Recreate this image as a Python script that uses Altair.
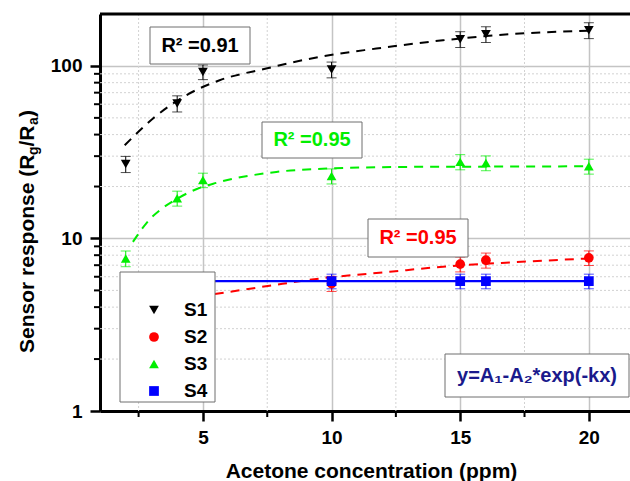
import altair as alt
import pandas as pd

FONT = "Liberation Sans"

# ---------------- data ----------------
series = ["S1", "S2", "S3", "S4"]
colors = ["#000000", "#ff0000", "#00ee00", "#0000ff"]
shapes = ["triangle-down", "circle", "triangle-up", "square"]
sym_sizes = [95, 95, 100, 48]

conc = [2, 4, 5, 10, 15, 16, 20]
s1 = [27.0, 60.6, 92.3, 95.3, 142.9, 152.7, 161.0]
s1_err = [2.9, 6.5, 9.0, 10.0, 15.0, 16.0, 17.0]
s3 = [7.66, 17.1, 21.8, 23.0, 27.8, 27.4, 26.2]
s3_err = [0.8, 1.7, 2.1, 2.3, 2.8, 2.7, 2.6]

conc_s2 = [10, 15, 16, 20]
s2 = [5.48, 7.10, 7.48, 7.72]
s2_err = [0.55, 0.70, 0.75, 0.75]

conc_s4 = [10, 15, 16, 20]
s4 = [5.66, 5.66, 5.66, 5.66]
s4_err = [0.55, 0.55, 0.55, 0.55]

# fitted curves (y = A1 - A2*exp(-kx))
fit1_x = [1.96, 3.06, 4.35, 5.65, 7.46, 9.66, 11.74, 14.33, 16.92, 20.0]
fit1_y = [34.7, 49.6, 67.6, 82.6, 96.6, 113.8, 126.1, 140.8, 152.7, 160.0]
fit2_x = [5.46, 7.59, 9.54, 12.26, 14.33, 16.92, 20.03]
fit2_y = [4.76, 5.32, 5.86, 6.41, 6.86, 7.26, 7.66]
fit3_x = [2.28, 2.93, 3.38, 4.03, 4.74, 5.52, 7.85, 10.05, 13.03, 16.5, 20.0]
fit3_y = [9.55, 12.9, 14.8, 17.1, 19.3, 21.0, 24.3, 25.5, 26.0, 26.1, 26.2]
fit4_x = [2.0, 20.0]
fit4_y = [5.66, 5.66]

major_x = [5, 10, 15, 20]
minor_x = [2.5, 7.5, 12.5, 17.5]
major_y = [1, 10, 100]
minor_y = [2, 3, 4, 5, 6, 7, 8, 9, 20, 30, 40, 50, 60, 70, 80, 90]

W, H = 530, 397

# ---------------- tables ----------------
rows = []
for name, xs_, ys_, es_ in [("S1", conc, s1, s1_err), ("S2", conc_s2, s2, s2_err),
                            ("S3", conc, s3, s3_err), ("S4", conc_s4, s4, s4_err)]:
    for xv, yv, ev in zip(xs_, ys_, es_):
        rows.append({"series": name, "x": xv, "y": yv, "lo": yv - ev, "hi": yv + ev})
pts_df = pd.DataFrame(rows)

fit_rows = []
for name, fx, fy in [("S1", fit1_x, fit1_y), ("S2", fit2_x, fit2_y), ("S3", fit3_x, fit3_y)]:
    for xv, yv in zip(fx, fy):
        fit_rows.append({"series": name, "x": xv, "y": yv})
fit_df = pd.DataFrame(fit_rows)
fit4_df = pd.DataFrame({"series": ["S4"] * len(fit4_x), "x": fit4_x, "y": fit4_y})

# ---------------- scales / axes ----------------
xs = alt.Scale(domain=[1, 21.6], nice=False, zero=False)
ys = alt.Scale(type="log", domain=[1, 200], nice=False)
cscale = alt.Scale(domain=series, range=colors)
sscale = alt.Scale(domain=series, range=shapes)
zscale = alt.Scale(domain=series, range=sym_sizes)

xaxis = alt.Axis(values=major_x, format="d", title="Acetone concentration (ppm)",
                 labelFont=FONT, labelFontSize=19, labelFontWeight="bold", labelColor="black",
                 labelPadding=22, labelBaseline="alphabetic", labelFlush=False, labelOverlap=False,
                 tickSize=10, tickWidth=2.5, tickColor="black",
                 domainColor="black", domainWidth=3,
                 grid=True, gridColor="#c4c4c4", gridWidth=1.5,
                 titleFont=FONT, titleFontSize=21, titleFontWeight="bold", titleColor="black",
                 titleX=271, titleY=66, titleAlign="center", titleBaseline="alphabetic")
yaxis = alt.Axis(values=major_y, format="d", title=None,
                 labelFont=FONT, labelFontSize=19, labelFontWeight="bold", labelColor="black",
                 labelPadding=8, labelFlush=False, labelOverlap=False,
                 tickSize=10, tickWidth=2.5, tickColor="black",
                 domainColor="black", domainWidth=3,
                 grid=True, gridColor="#c4c4c4", gridWidth=1.5)

X = lambda f="x": alt.X(f"{f}:Q", scale=xs, axis=xaxis)
Y = lambda f="y": alt.Y(f"{f}:Q", scale=ys, axis=yaxis)
COL = alt.Color("series:N", scale=cscale, legend=None)

# ---------------- layers ----------------
grid_h = alt.Chart(pd.DataFrame({"v": minor_y})).mark_rule(
    color="#d2d2d2", strokeWidth=1, strokeDash=[2, 2]).encode(
    y=Y("v"), x=alt.value(0), x2=alt.value(W))
grid_v = alt.Chart(pd.DataFrame({"v": minor_x})).mark_rule(
    color="#d2d2d2", strokeWidth=1, strokeDash=[2, 2]).encode(
    x=X("v"), y=alt.value(0), y2=alt.value(H))
tick_y = alt.Chart(pd.DataFrame({"v": minor_y})).mark_rule(
    color="black", strokeWidth=2).encode(
    y=Y("v"), x=alt.value(-6), x2=alt.value(0))
tick_x = alt.Chart(pd.DataFrame({"v": minor_x})).mark_rule(
    color="black", strokeWidth=2).encode(
    x=X("v"), y=alt.value(H), y2=alt.value(H + 6))
top_border = alt.Chart(pd.DataFrame({"v": [0]})).mark_rule(
    color="black", strokeWidth=3).encode(
    y=alt.value(0), x=alt.value(0), x2=alt.value(W))

fits = alt.Chart(fit_df).mark_line(strokeWidth=2, strokeDash=[9, 7], interpolate="monotone").encode(
    x=X(), y=Y(), color=COL, detail="series:N")
fit4 = alt.Chart(fit4_df).mark_line(strokeWidth=2.2).encode(x=X(), y=Y(), color=COL)

err = alt.Chart(pts_df).mark_rule(strokeWidth=1).encode(
    x=X(), y=Y("lo"), y2="hi:Q", color=COL)
cap_lo = alt.Chart(pts_df).mark_tick(orient="horizontal", size=10, thickness=1).encode(
    x=X(), y=Y("lo"), color=COL)
cap_hi = alt.Chart(pts_df).mark_tick(orient="horizontal", size=10, thickness=1).encode(
    x=X(), y=Y("hi"), color=COL)
points = alt.Chart(pts_df).mark_point(filled=True, opacity=1, strokeWidth=0).encode(
    x=X(), y=Y(), color=COL,
    shape=alt.Shape("series:N", scale=sscale, legend=None),
    size=alt.Size("series:N", scale=zscale, legend=None))


def box(x0, y0, x1, y1):
    return alt.Chart(pd.DataFrame({"b": [0]})).mark_rect(
        fill="white", stroke="#6e6e6e", strokeWidth=1).encode(
        x=alt.value(x0), x2=alt.value(x1), y=alt.value(y0), y2=alt.value(y1))


def label(txt, x, y, color="black", size=20, angle=0, align="center", baseline="middle"):
    kw = dict(font=FONT, fontSize=size, fontWeight="bold", color=color,
              align=align, baseline=baseline)
    if angle:
        kw["angle"] = angle
    return alt.Chart(pd.DataFrame({"t": [txt]})).mark_text(**kw).encode(
        text="t:N", x=alt.value(x), y=alt.value(y))


annots = [
    box(50, 13, 150, 50), label("R² =0.91", 100, 32, "black"),
    box(162, 108, 262, 144), label("R² =0.95", 212, 126, "#00ee00"),
    box(268, 205, 368, 243), label("R² =0.95", 318, 224, "#ff0000"),
    box(345, 340, 529, 383), label("y=A₁-A₂*exp(-kx)", 437, 362, "#1a1a8c"),
]

ytitle = [
    label("Sensor response (R", -66.5, 339, size=21, angle=270, align="left", baseline="alphabetic"),
    label("g", -62, 141, size=14, angle=270, align="left", baseline="alphabetic"),
    label("/R", -66.5, 132.5, size=21, angle=270, align="left", baseline="alphabetic"),
    label("a", -62, 111, size=14, angle=270, align="left", baseline="alphabetic"),
    label(")", -66.5, 103, size=21, angle=270, align="left", baseline="alphabetic"),
]

main = alt.layer(grid_h, grid_v, tick_y, tick_x, fits, fit4, err, cap_lo, cap_hi, points,
                 *annots, top_border, *ytitle)

# ---------------- legend (drawn on top) ----------------
leg_df = pd.DataFrame({"series": series})
LY = alt.Y("series:N", scale=alt.Scale(type="point", domain=series, range=[296, 377], padding=0),
           axis=None)
leg_box = box(20, 258, 115, 388)
leg_pts = alt.Chart(leg_df).mark_point(filled=True, opacity=1, strokeWidth=0).encode(
    x=alt.value(54), y=LY, color=COL,
    shape=alt.Shape("series:N", scale=sscale, legend=None),
    size=alt.Size("series:N", scale=zscale, legend=None))
leg_txt = alt.Chart(leg_df).mark_text(font=FONT, fontSize=19, fontWeight="bold", color="black",
                                      align="left", baseline="middle").encode(
    x=alt.value(84), y=LY, text="series:N")
legend = alt.layer(leg_box, leg_pts, leg_txt)

chart = alt.layer(main, legend).resolve_scale(y="independent").properties(
    width=W, height=H,
    autosize=alt.AutoSizeParams(type="none"),
    padding={"left": 100, "top": 14, "right": 0, "bottom": 70},
    background="white",
).configure_view(stroke=None)

chart.save("out.html", embed_options={"renderer": "svg", "actions": False})
